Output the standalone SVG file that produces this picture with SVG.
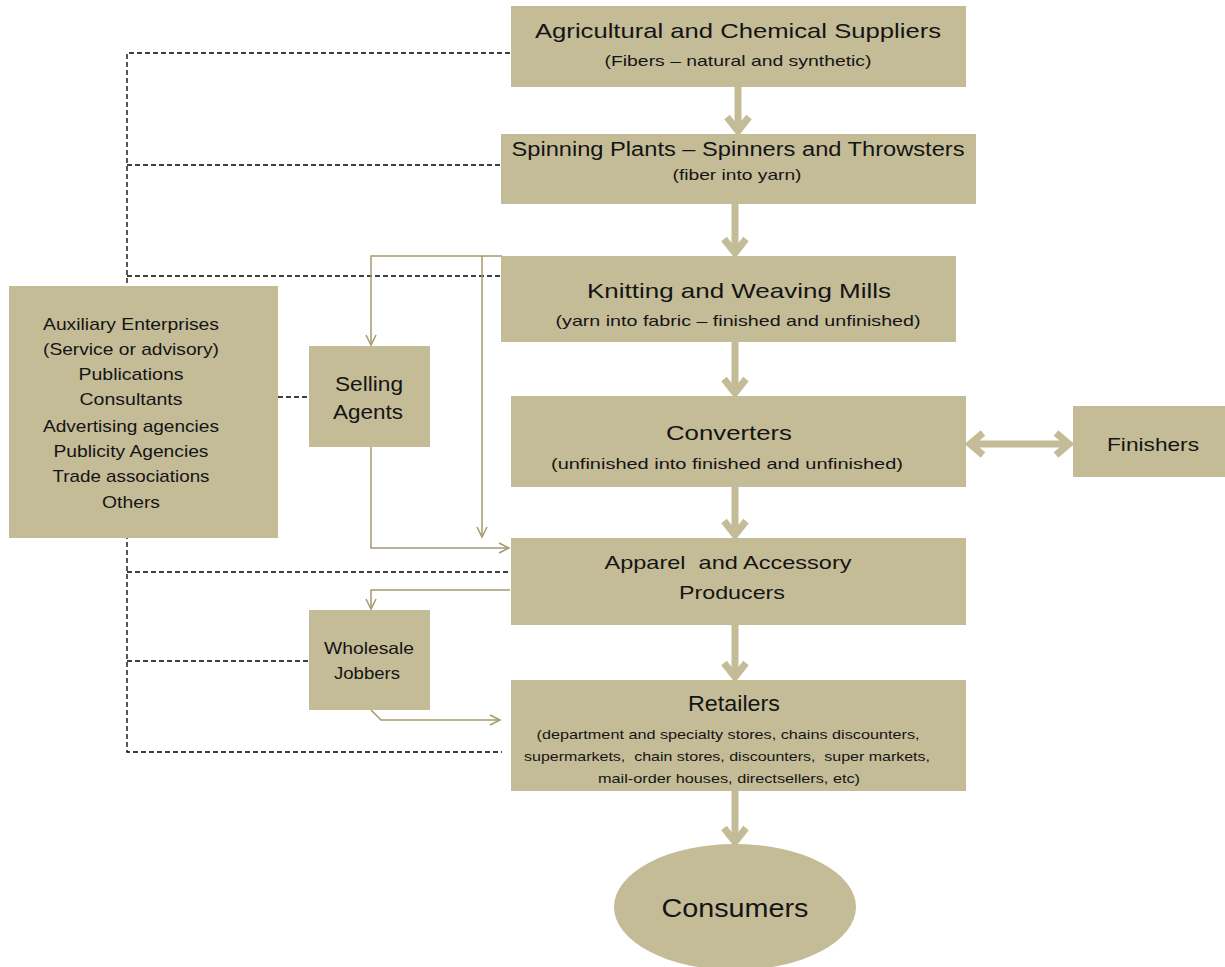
<svg xmlns="http://www.w3.org/2000/svg" width="1225" height="967" viewBox="0 0 1225 967">
<defs>
<style>
.box{fill:#C4BC97;}
.t{font-family:"Liberation Sans",Arial,sans-serif;fill:#141414;text-anchor:middle;white-space:pre;}
.dash{fill:none;stroke:#000000;stroke-width:1.3;stroke-dasharray:5 3;}
.thin{fill:none;stroke:#A39A6E;stroke-width:1.5;}
.thick{fill:none;stroke:#C4BC97;stroke-width:7;}
</style>
<marker id="open" markerUnits="userSpaceOnUse" markerWidth="14" markerHeight="14" refX="11" refY="6" orient="auto">
<path d="M1,1 L11,6 L1,11" fill="none" stroke="#A39A6E" stroke-width="1.5"/>
</marker>
</defs>
<rect width="1225" height="967" fill="#ffffff"/>

<g id="connectors">
<path class="dash" d="M510,53 H127 V752 H502"/>
<path class="dash" d="M127,165 H500"/>
<path class="dash" d="M127,276 H500"/>
<path class="dash" d="M127,572 H510"/>
<path class="dash" d="M127,661 H309"/>
<path class="dash" d="M278,397 H309"/>

<path class="thin" d="M502,256 H371 V345" marker-end="url(#open)"/>
<path class="thin" d="M482,256 V537" marker-end="url(#open)"/>
<path class="thin" d="M371,447 V548 H509" marker-end="url(#open)"/>
<path class="thin" d="M510,590 H371 V609" marker-end="url(#open)"/>
<path class="thin" d="M371,710 L381,720 H500" marker-end="url(#open)"/>

<g class="thick">
<path d="M738,87 V130"/><path d="M727,117 L738,131 L749,117"/>
<path d="M735,204 V252"/><path d="M724,239 L735,253 L746,239"/>
<path d="M735,342 V392"/><path d="M724,379 L735,393 L746,379"/>
<path d="M735,487 V534"/><path d="M724,521 L735,535 L746,521"/>
<path d="M735,625 V676"/><path d="M724,663 L735,677 L746,663"/>
<path d="M735,791 V841"/><path d="M724,828 L735,842 L746,828"/>
<path d="M970,444 H1069"/><path d="M983,433 L970,444 L983,455"/><path d="M1056,433 L1069,444 L1056,455"/>
</g>
</g>

<g id="agricultural">
<rect class="box" x="511" y="6" width="455" height="81"/>
<text class="t" x="738" y="38" font-size="21" textLength="406" lengthAdjust="spacingAndGlyphs">Agricultural and Chemical Suppliers</text>
<text class="t" x="738" y="66" font-size="15" textLength="267" lengthAdjust="spacingAndGlyphs">(Fibers – natural and synthetic)</text>
</g>

<g id="spinning">
<rect class="box" x="501" y="134" width="475" height="70"/>
<text class="t" x="738" y="156" font-size="20" textLength="453" lengthAdjust="spacingAndGlyphs">Spinning Plants – Spinners and Throwsters</text>
<text class="t" x="737" y="180" font-size="15" textLength="129" lengthAdjust="spacingAndGlyphs">(fiber into yarn)</text>
</g>

<g id="knitting">
<rect class="box" x="501" y="256" width="455" height="86"/>
<text class="t" x="739" y="298" font-size="21" textLength="304" lengthAdjust="spacingAndGlyphs">Knitting and Weaving Mills</text>
<text class="t" x="738" y="326" font-size="15" textLength="365" lengthAdjust="spacingAndGlyphs">(yarn into fabric – finished and unfinished)</text>
</g>

<g id="converters">
<rect class="box" x="511" y="396" width="455" height="91"/>
<text class="t" x="729" y="440" font-size="21" textLength="126" lengthAdjust="spacingAndGlyphs">Converters</text>
<text class="t" x="727" y="469" font-size="15" textLength="352" lengthAdjust="spacingAndGlyphs">(unfinished into finished and unfinished)</text>
</g>

<g id="finishers">
<rect class="box" x="1073" y="406" width="152" height="71"/>
<text class="t" x="1153" y="451" font-size="19" textLength="92" lengthAdjust="spacingAndGlyphs">Finishers</text>
</g>

<g id="apparel">
<rect class="box" x="511" y="538" width="455" height="87"/>
<text class="t" x="728" y="569" font-size="19" textLength="247" lengthAdjust="spacingAndGlyphs">Apparel  and Accessory</text>
<text class="t" x="732" y="599" font-size="19" textLength="106" lengthAdjust="spacingAndGlyphs">Producers</text>
</g>

<g id="retailers">
<rect class="box" x="511" y="680" width="455" height="111"/>
<text class="t" x="734" y="711" font-size="22" textLength="92" lengthAdjust="spacingAndGlyphs">Retailers</text>
<text class="t" x="728" y="739" font-size="13.5" textLength="383" lengthAdjust="spacingAndGlyphs">(department and specialty stores, chains discounters,</text>
<text class="t" x="727" y="761" font-size="13.5" textLength="406" lengthAdjust="spacingAndGlyphs">supermarkets,  chain stores, discounters,  super markets,</text>
<text class="t" x="729" y="783" font-size="13.5" textLength="262" lengthAdjust="spacingAndGlyphs">mail-order houses, directsellers, etc)</text>
</g>

<g id="consumers">
<ellipse class="box" cx="735" cy="907" rx="121" ry="63"/>
<text class="t" x="735" y="917" font-size="26" textLength="147" lengthAdjust="spacingAndGlyphs">Consumers</text>
</g>

<g id="auxiliary">
<rect class="box" x="9" y="286" width="269" height="252"/>
<text class="t" x="131" y="330" font-size="17" textLength="176" lengthAdjust="spacingAndGlyphs">Auxiliary Enterprises</text>
<text class="t" x="131" y="355" font-size="17" textLength="176" lengthAdjust="spacingAndGlyphs">(Service or advisory)</text>
<text class="t" x="131" y="380" font-size="17" textLength="105" lengthAdjust="spacingAndGlyphs">Publications</text>
<text class="t" x="131" y="405" font-size="17" textLength="103" lengthAdjust="spacingAndGlyphs">Consultants</text>
<text class="t" x="131" y="432" font-size="17" textLength="176" lengthAdjust="spacingAndGlyphs">Advertising agencies</text>
<text class="t" x="131" y="457" font-size="17" textLength="155" lengthAdjust="spacingAndGlyphs">Publicity Agencies</text>
<text class="t" x="131" y="482" font-size="17" textLength="157" lengthAdjust="spacingAndGlyphs">Trade associations</text>
<text class="t" x="131" y="508" font-size="17" textLength="58" lengthAdjust="spacingAndGlyphs">Others</text>
</g>

<g id="selling-agents">
<rect class="box" x="309" y="346" width="121" height="101"/>
<text class="t" x="369" y="391" font-size="21" textLength="68" lengthAdjust="spacingAndGlyphs">Selling</text>
<text class="t" x="368" y="419" font-size="21" textLength="70" lengthAdjust="spacingAndGlyphs">Agents</text>
</g>

<g id="wholesale-jobbers">
<rect class="box" x="309" y="610" width="121" height="100"/>
<text class="t" x="369" y="654" font-size="16.5" textLength="90" lengthAdjust="spacingAndGlyphs">Wholesale</text>
<text class="t" x="367" y="679" font-size="16.5" textLength="66" lengthAdjust="spacingAndGlyphs">Jobbers</text>
</g>
</svg>
